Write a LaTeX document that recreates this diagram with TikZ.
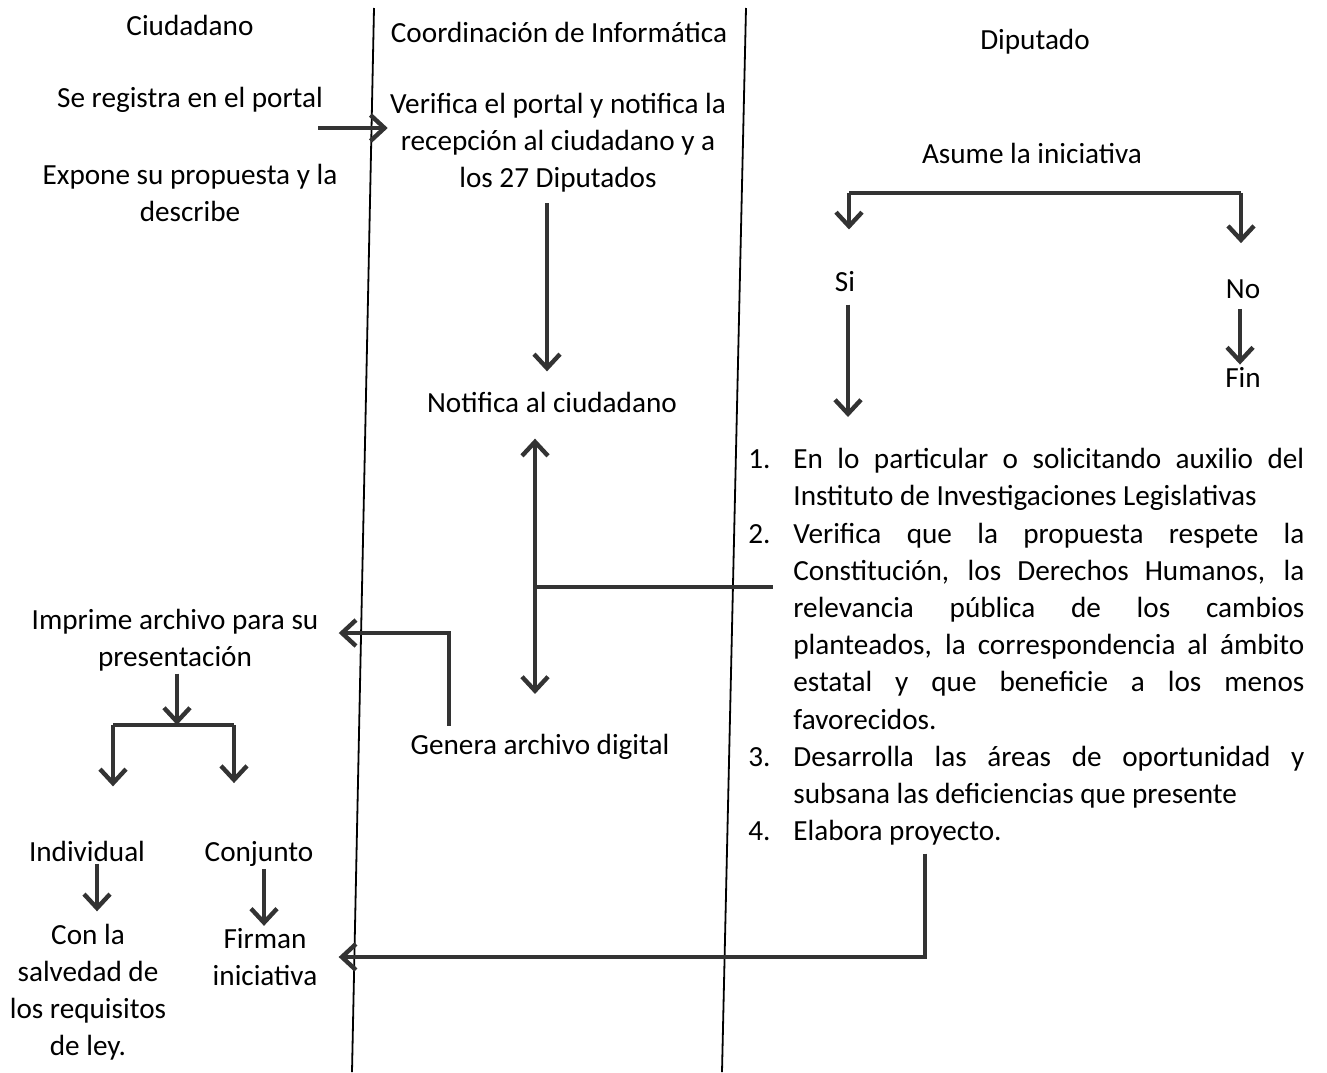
\documentclass[tikz,border=0pt]{standalone}
\usepackage{fontspec}
\setmainfont{Carlito}
\usetikzlibrary{arrows.meta,positioning}
\newcommand{\paso}[1]{\par\noindent\hangindent=22.5pt\hangafter=1\makebox[22.5pt][l]{#1}}

\begin{document}
\begin{tikzpicture}[x=0.5pt,y=-0.5pt,every node/.style={font=\fontsize{14.6}{18.6}\selectfont}]
        \tikzstyle{txt}=[inner sep=1pt, align=center]
        \tikzstyle{lane}=[draw=black, line width=0.9pt]
        \tikzstyle{link}=[draw=black!80, line width=2.2pt]
        \tikzstyle{flow}=[link, -{Straight Barb[length=7pt,width=13pt]}]
        \useasboundingbox (0,0) rectangle (1327,1072);
        \draw[lane] (374,8) -- (352,1072);
        \draw[lane] (746,8) -- (722,1072);
        \node[txt] (ciud) at (190,25) {Ciudadano};
        \node[txt] (coord) at (559,32) {Coordinación de Informática};
        \node[txt] (dip) at (1035,42) {Diputado};
        \node[txt] (reg) at (190,100) {Se registra en el portal};
        \node[txt] (expone) at (190,193) {Expone su propuesta y la\\describe};
        \node[txt] (verif) at (558,143) {Verifica el portal y notifica la\\recepción al ciudadano y a\\los 27 Diputados};
        \node[txt] (notif) at (552,402) {Notifica al ciudadano};
        \node[txt] (genera) at (540,747) {Genera archivo digital};
        \node[txt] (imprime) at (175,640) {Imprime archivo para su\\presentación};
        \node[txt] (indiv) at (87,851) {Individual};
        \node[txt] (conj) at (259,854) {Conjunto};
        \node[txt] (salv) at (88,992) {Con la\\salvedad de\\los requisitos\\de ley.};
        \node[txt] (firman) at (265,957) {Firman\\iniciativa};
        \node[txt] (asume) at (1032,153) {Asume la iniciativa};
        \node[txt] (si) at (845,282) {Si};
        \node[txt] (no) at (1243,289) {No};
        \node[txt] (fin) at (1243,377) {Fin};
        \node[inner sep=0pt, text width=278pt, align=justify, anchor=north west] (lista) at (748,431) {\tolerance=9999
          \paso{1.}En lo particular o solicitando auxilio del\linebreak Instituto de Investigaciones Legislativas
          \paso{2.}Verifica que la propuesta respete la\linebreak Constitución, los Derechos Humanos, la\linebreak relevancia pública de los cambios\linebreak planteados, la correspondencia al ámbito\linebreak estatal y que beneficie a los menos\linebreak favorecidos.
          \paso{3.}Desarrolla las áreas de oportunidad y\linebreak subsana las deficiencias que presente
          \paso{4.}Elabora proyecto.};
        \coordinate (regA) at (318,128);
        \coordinate (junc) at (536,587);
        \coordinate (bifC) at (177,725);
        \coordinate (bifL) at (113,725);
        \coordinate (bifR) at (234,725);
        \coordinate (decSi) at (849,193);
        \coordinate (decNo) at (1241,193);
        \draw[flow] (regA) -- (regA -| verif.west);
        \draw[flow] ([xshift=-5.5pt,yshift=-4pt]verif.south) -- ([xshift=-2.5pt,yshift=9pt]notif.north);
        \draw[link, {Straight Barb[length=7pt,width=13pt]}-{Straight Barb[length=7pt,width=13pt]}] ([xshift=-8.5pt,yshift=-12pt]notif.south) -- ([xshift=-2.5pt,yshift=19pt]genera.north);
        \draw[link] (junc) -- ([xshift=12.5pt]junc -| lista.west);
        \draw[flow] ([xshift=-45.5pt,yshift=3pt]genera.north) |- ([xshift=9pt,yshift=3.5pt]imprime.east);
        \draw[flow] (imprime.south -| bifC) -- (bifC);
        \draw[link] (bifL) -- (bifR);
        \draw[flow, shorten >=26pt] (bifL) -- (bifL |- indiv.north);
        \draw[flow, shorten >=28pt] (bifR) -- (bifR |- conj.north);
        \draw[flow, shorten >=5pt] ([xshift=5pt]indiv.south) -- ([xshift=4.5pt]salv.north);
        \draw[flow] ([xshift=2.5pt]conj.south) -- ([xshift=-0.5pt]firman.north);
        \draw[flow] ([xshift=-50.75pt,yshift=-4pt]lista.south) |- ([xshift=9.5pt]firman.east);
        \draw[link] (decSi) -- (decNo);
        \draw[flow, shorten >=20pt] (decSi) -- (decSi |- si.north);
        \draw[flow, shorten >=17pt] (decNo) -- (decNo |- no.north);
        \draw[flow, shorten <=5pt, shorten >=7pt] ([xshift=1.5pt]si.south) -- ([xshift=1.5pt]si.south |- lista.north);
        \draw[flow, shorten <=4pt] ([xshift=-1.5pt]no.south) -- ([xshift=-1.5pt]fin.north);
      \end{tikzpicture}
\end{document}
